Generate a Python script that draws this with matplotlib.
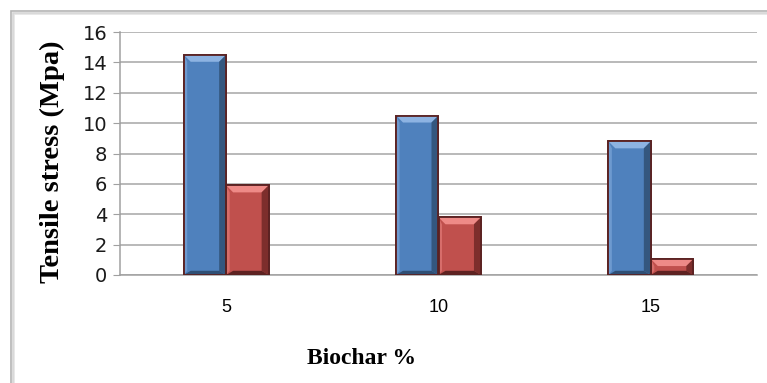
import matplotlib
matplotlib.use("Agg")
import matplotlib.pyplot as plt
from matplotlib.patches import Rectangle, Polygon
import numpy as np

categories = ["5", "10", "15"]
series_a = [14.5, 10.5, 8.8]
series_b = [5.9, 3.8, 1.05]
yticks = [0, 2, 4, 6, 8, 10, 12, 14, 16]

W, H = 767, 383
fig = plt.figure(figsize=(W / 100, H / 100), dpi=100)
fig.patch.set_facecolor("white")

# chart frame with a soft shadow
for off, col in [(3, "#e4e4e4"), (2, "#d6d6d6"), (0, "#b4b4b4")]:
    fig.add_artist(Rectangle(((11 + off) / W, -0.1), 2, 1.1 - (11 + off) / H,
                             transform=fig.transFigure, fill=False,
                             edgecolor=col, linewidth=1.2))

ax = fig.add_axes([120 / W, 1 - 275 / H, (757 - 120) / W, (275 - 32) / H])
ax.set_facecolor("none")

x = np.arange(len(categories))
bw = 0.2
blue, red = "#4F81BD", "#C0504D"
edge = "#5b2222"

px_per_unit_y = (275 - 32) / 16.0
px_per_unit_x = (757 - 120) / 3.0
bev_y = 7 / px_per_unit_y
bev_x = 7 / px_per_unit_x


def bevel_bar(xl, h, color, light, dark, darker):
    ax.bar(xl, h, width=bw, align="edge", color=color, edgecolor=edge,
           linewidth=1.3, zorder=3)
    xr = xl + bw
    by = min(bev_y, h / 2.2)
    bx = bev_x
    # top highlight
    ax.add_patch(Polygon([(xl, h), (xr, h), (xr - bx, h - by), (xl + bx, h - by)],
                         closed=True, facecolor=light, edgecolor="none", zorder=4))
    # right side shade
    ax.add_patch(Polygon([(xr, h), (xr, 0), (xr - bx, by * 0.6), (xr - bx, h - by)],
                         closed=True, facecolor=dark, edgecolor="none", zorder=4))
    # bottom shade
    ax.add_patch(Polygon([(xl, 0), (xr, 0), (xr - bx, by * 0.6), (xl + bx, by * 0.6)],
                         closed=True, facecolor=darker, edgecolor="none", zorder=4))
    # left edge light
    ax.add_patch(Polygon([(xl, 0), (xl, h), (xl + bx * 0.5, h - by), (xl + bx * 0.5, by * 0.6)],
                         closed=True, facecolor=light, edgecolor="none", alpha=0.5, zorder=4))
    ax.bar(xl, h, width=bw, align="edge", fill=False, edgecolor=edge,
           linewidth=1.3, zorder=5)


for i in range(len(categories)):
    bevel_bar(x[i] + 0.5 - bw, series_a[i], blue, "#8db3e2", "#34577f", "#2f4f75")
    bevel_bar(x[i] + 0.5, series_b[i], red, "#ee8a87", "#7d2e2c", "#5e2221")

ax.set_xlim(0, 3)
ax.set_ylim(0, 16)
ax.set_yticks(yticks)
ax.set_yticklabels([str(v) for v in yticks], fontsize=14, family="DejaVu Sans",
                   color="#1a1a1a")
ax.set_xticks(x + 0.5)
ax.set_xticklabels(categories, fontsize=13, family="Liberation Sans")
ax.tick_params(axis="x", length=0, pad=17)
ax.tick_params(axis="y", length=5, color="#a0a0a0", pad=4)
ax.yaxis.grid(True, color="#a6a6a6", linewidth=1.1, zorder=0)
ax.set_axisbelow(True)
for s in ["top", "right"]:
    ax.spines[s].set_visible(False)
ax.spines["left"].set_color("#a0a0a0")
ax.spines["bottom"].set_color("#a0a0a0")
ax.spines["left"].set_linewidth(1.1)
ax.spines["bottom"].set_linewidth(1.1)

fig.text(52 / W, 1 - 162 / H, "Tensile stress (Mpa)", rotation=90,
         ha="center", va="center", fontsize=20.5, fontweight="bold",
         family="Liberation Serif")
fig.text(362 / W, 1 - 358 / H, "Biochar %", ha="center", va="center",
         fontsize=17, fontweight="bold", family="Liberation Serif")

fig.savefig("out.png", dpi=100)
